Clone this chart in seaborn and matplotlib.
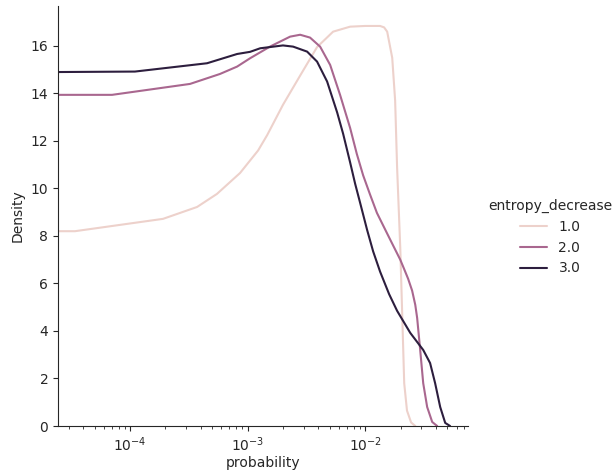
import numpy as np
import pandas as pd
import matplotlib
matplotlib.use("Agg")
import matplotlib.pyplot as plt
import seaborn as sns

# entropy_decrease = 1.0
p1 = [2.44e-5, 3.40e-5, 1.91e-4, 3.72e-4, 5.49e-4, 8.63e-4, 1.23e-3, 1.47e-3, 2.00e-3,
      2.80e-3, 3.90e-3, 5.34e-3, 7.45e-3, 0.0100, 0.0134, 0.0145, 0.0154, 0.0170, 0.0180,
      0.0187, 0.0199, 0.0207, 0.0215, 0.0227, 0.0246, 0.0267]
d1 = [8.20, 8.20, 8.72, 9.22, 9.77, 10.65, 11.6, 12.25, 13.52,
      14.75, 15.95, 16.6, 16.81, 16.84, 16.84, 16.78, 16.6, 15.5, 13.7,
      10.9, 7.5, 4.6, 1.8, 0.65, 0.15, 0.0]

# entropy_decrease = 2.0
p2 = [2.44e-5, 7.03e-5, 3.24e-4, 5.83e-4, 8.15e-4, 1.05e-3, 1.55e-3, 2.30e-3, 2.80e-3,
      3.40e-3, 4.14e-3, 5.04e-3, 6.12e-3, 7.45e-3, 8.50e-3, 9.62e-3, 0.0110, 0.0126, 0.0154,
      0.0173, 0.0199, 0.0215, 0.0232, 0.0251, 0.0267, 0.0277, 0.0294, 0.0312, 0.0337, 0.0372,
      0.0410]
d2 = [13.94, 13.94, 14.4, 14.82, 15.13, 15.48, 15.97, 16.39, 16.47,
      16.35, 15.97, 15.2, 13.94, 12.55, 11.45, 10.55, 9.75, 8.97, 8.1,
      7.6, 7.0, 6.6, 6.2, 5.7, 5.1, 4.55, 3.2, 1.8, 0.8, 0.17,
      0.0]

# entropy_decrease = 3.0
p3 = [2.44e-5, 1.10e-4, 4.52e-4, 8.15e-4, 1.05e-3, 1.28e-3, 2.00e-3, 2.44e-3, 3.21e-3,
      3.90e-3, 4.75e-3, 5.78e-3, 6.50e-3, 7.45e-3, 8.22e-3, 9.06e-3, 0.0104, 0.0117, 0.0134,
      0.0160, 0.0187, 0.0242, 0.0312, 0.0357, 0.0394, 0.0435, 0.0480, 0.0528]
d3 = [14.9, 14.92, 15.27, 15.66, 15.75, 15.9, 16.02, 15.97, 15.76,
      15.34, 14.5, 13.2, 12.3, 11.1, 10.2, 9.4, 8.25, 7.35, 6.5,
      5.55, 4.85, 3.92, 3.2, 2.65, 1.8, 0.8, 0.13, 0.0]

levels = [1.0, 2.0, 3.0]
frames = []
for lev, p, d in zip(levels, [p1, p2, p3], [d1, d2, d3]):
    frames.append(pd.DataFrame({"probability": p, "Density": d, "entropy_decrease": lev}))
df = pd.concat(frames, ignore_index=True)

sns.set_style("ticks")
fig = plt.figure(figsize=(6.15, 4.73), dpi=100)
ax = fig.add_axes([58 / 615, (473 - 426) / 473, (468 - 58) / 615, (426 - 6) / 473])
sns.lineplot(data=df, x="probability", y="Density", hue="entropy_decrease",
             palette=sns.cubehelix_palette(as_cmap=True), legend="full", ax=ax,
             sort=False, estimator=None, linewidth=1.5)
ax.set_xscale("log")
ax.set_xlim(2.44e-5, 0.075)
ax.set_ylim(0, 17.68)
ax.set_yticks([0, 2, 4, 6, 8, 10, 12, 14, 16])
ax.set_xlabel("probability", labelpad=1)
sns.despine(ax=ax)

handles, labels = ax.get_legend_handles_labels()
ax.get_legend().remove()
leg = fig.legend(handles, ["1.0", "2.0", "3.0"], title="entropy_decrease", frameon=False,
                 loc="center", bbox_to_anchor=(550 / 615, 1 - 237 / 473))

fig.savefig("out.png", dpi=100)
